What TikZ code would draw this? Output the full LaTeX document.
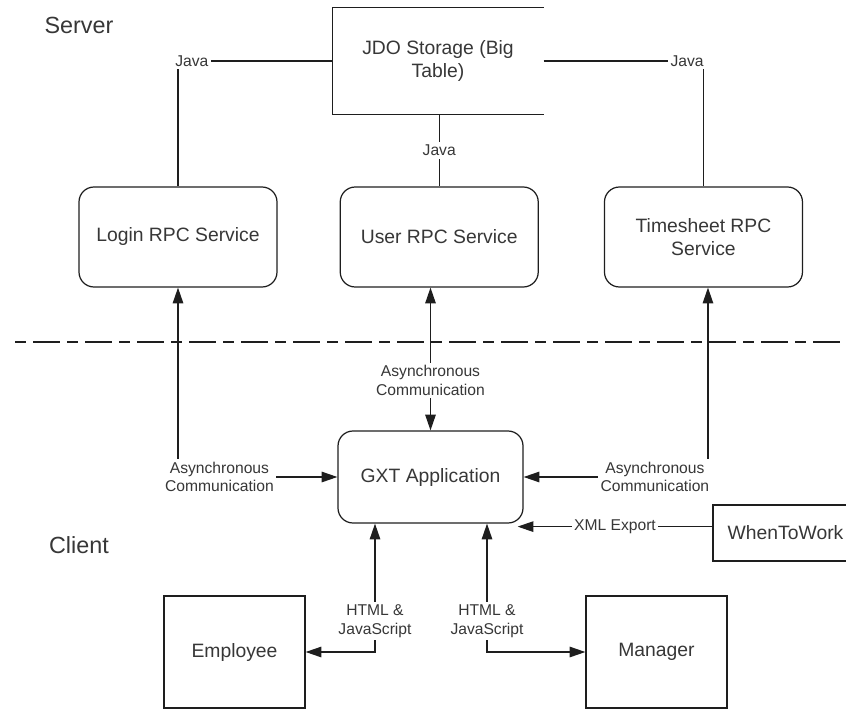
\documentclass[tikz,border=0pt]{standalone}
\usepackage{fontspec}
\setmainfont{Liberation Sans}
\usetikzlibrary{arrows.meta, positioning, calc}
\definecolor{linegray}{RGB}{30, 30, 30}
\definecolor{textgray}{RGB}{55, 55, 55}
\newcommand{\mainsize}{\fontsize{11}{13.2}\selectfont}
\newcommand{\smallsize}{\fontsize{8.9}{10.7}\selectfont}
\newcommand{\zonesize}{\fontsize{13.3}{16}\selectfont}
\tikzset{
    svc/.style={rectangle, rounded corners=0.3cm, minimum width=3.96cm,
                minimum height=2cm, draw=linegray, text=textgray,
                font=\mainsize, align=center, line width=0.7pt},
    blk/.style={rectangle, draw=linegray, text=textgray, font=\mainsize,
                align=center, line width=0.7pt},
    lbl/.style={fill=white, text=textgray, font=\smallsize, align=center,
                inner sep=1.5pt},
    zone/.style={text=textgray, font=\zonesize},
    wire/.style={line width=0.7pt, draw=linegray},
    arr/.style={wire, -{Triangle[length=9pt, width=6pt]}},
    biarr/.style={wire, {Triangle[length=9pt, width=6pt]}-{Triangle[length=9pt, width=6pt]}},
    sep/.style={line width=0.7pt, draw=linegray,
                dash pattern=on 0.22cm off 0.14cm on 0.54cm off 0.14cm},
}

\begin{document}
\begin{tikzpicture}
    \useasboundingbox (0,0) rectangle (16.92,-14.18);

    % Zones
    \node[zone] (server) at (1.58,-0.5) {Server};
    \node[zone] (client) at (1.58,-10.9) {Client};
    \coordinate (sepL) at (0.3,-6.84);
    \coordinate (sepR) at (16.92,-6.84);
    \draw[sep] (sepL) -- (sepR);

    % Server side
    \node[blk, draw=none, minimum width=4.2cm, minimum height=2.12cm] (jdo) at (8.76,-1.22) {JDO Storage (Big\\Table)};
    \draw[wire] (jdo.north east) -- (jdo.north west) -- (jdo.south west) -- (jdo.south east);
    \node[svc] (login) at (3.56,-4.74) {Login RPC Service};
    \node[svc, right=1.24cm of login] (user) {User RPC Service};
    \node[svc, right=1.3cm of user] (sheet) {Timesheet RPC\\Service};

    % Client side
    \node[svc, minimum width=3.7cm, minimum height=1.84cm] (gxt) at (8.61,-9.54) {GXT Application};
    \node[blk, minimum width=2.9cm, minimum height=1.12cm] (wtw) at (15.71,-10.66) {WhenToWork};
    \node[blk, minimum width=2.82cm, minimum height=2.24cm] (emp) at (4.69,-13.04) {Employee};
    \node[blk, minimum width=2.82cm, minimum height=2.24cm] (mgr) at (13.13,-13.04) {Manager};

    % Java links
    \draw[wire] (jdo.west) -| node[lbl, pos=0.455] {Java} (login.north);
    \draw[wire] (jdo.east) -| node[lbl, pos=0.449] {Java} (sheet.north);
    \draw[wire] (jdo.south -| user.north) -- node[lbl] {Java} (user.north);

    % RPC calls
    \draw[biarr] (login.south) |- node[lbl, pos=0.63] {Asynchronous\\Communication} (gxt.west);
    \draw[biarr] (gxt.north |- user.south) -- node[lbl, pos=0.65] {Asynchronous\\Communication} (gxt.north);
    \draw[biarr] ([xshift=0.09cm]sheet.south) |- node[lbl, pos=0.644] {Asynchronous\\Communication} (gxt.east);

    % Export
    \coordinate (xmlend) at ([xshift=-0.12cm, yshift=-0.06cm]gxt.south east);
    \draw[arr] (xmlend -| wtw.west) -- node[lbl] {XML Export} (xmlend);

    % Browsers
    \draw[biarr] ([xshift=-1.11cm]gxt.south) |- node[lbl, pos=0.38] {HTML \&\\JavaScript} (emp.east);
    \draw[biarr] ([xshift=1.13cm]gxt.south) |- node[lbl, pos=0.38] {HTML \&\\JavaScript} (mgr.west);
\end{tikzpicture}
\end{document}
